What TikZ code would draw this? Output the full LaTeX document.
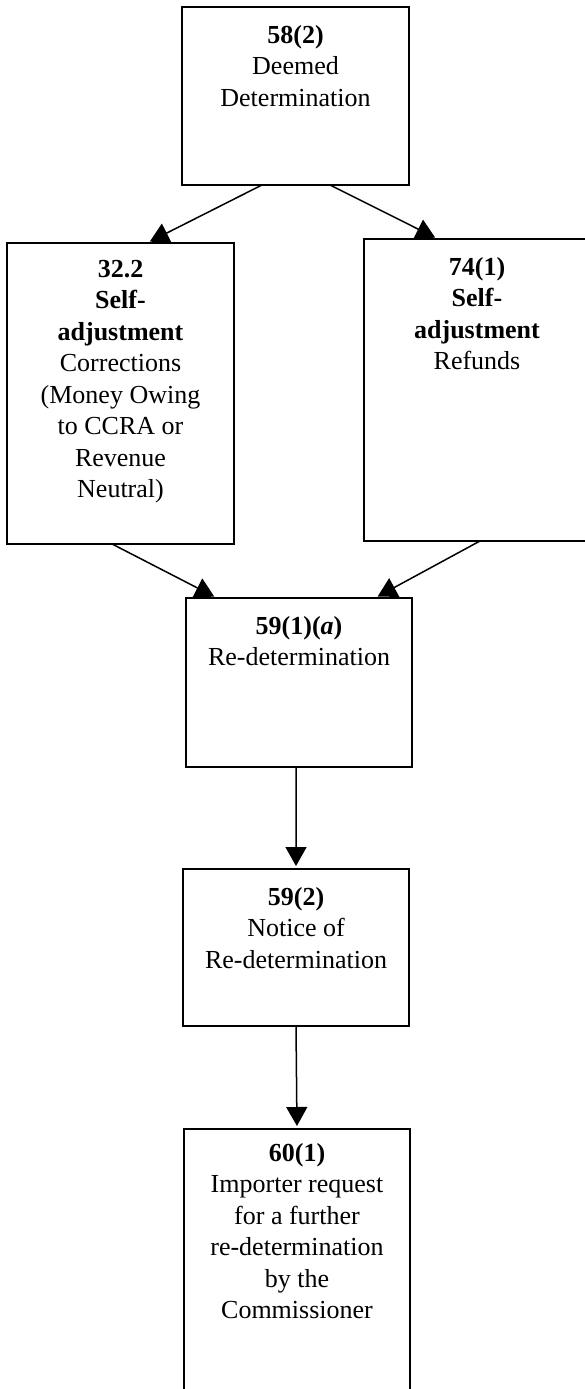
\documentclass[tikz,border=0pt]{standalone}
\usepackage{fontspec}
\setmainfont{Liberation Serif}
\usetikzlibrary{arrows.meta,calc}
\begin{document}
\begin{tikzpicture}[x=1pt,y=-1pt,
  box/.style={draw=black,line width=1.8pt,inner sep=0pt,outer sep=0pt},
  txt/.style={font=\fontsize{26}{31.5}\selectfont,align=center,inner sep=0pt,anchor=north},
  conn/.style={line width=1.5pt,-{Triangle[length=19pt,width=21pt]},shorten >=3pt}]
\useasboundingbox (0,0) rectangle (585,1389);
\clip (0,0) rectangle (585,1389);
\fill[white] (0,0) rectangle (585,1389);
% boxes
\node[box,minimum width=227pt,minimum height=178pt] (b1) at (295.5,96) {};
\node[box,minimum width=227pt,minimum height=301pt] (b2) at (120.5,393.5) {};
\node[box,minimum width=226pt,minimum height=302pt] (b3) at (477,390) {};
\node[box,minimum width=226pt,minimum height=169pt] (b4) at (299,682.5) {};
\node[box,minimum width=226pt,minimum height=157pt] (b5) at (296,947.5) {};
\node[box,minimum width=226pt,minimum height=300pt] (b6) at (297,1279) {};
% texts
\node[txt] (t1) at ([yshift=-14pt]b1.north) {\strut\textbf{58(2)}\\Deemed\\Determination};
\node[txt] (t2) at ([yshift=-12pt]b2.north) {\strut\textbf{32.2}\\\textbf{Self-}\\\textbf{adjustment}\\Corrections\\(Money Owing\\to CCRA or\\Revenue\\Neutral)};
\node[txt] (t3) at ([yshift=-14pt]b3.north) {\strut\textbf{74(1)}\\\textbf{Self-}\\\textbf{adjustment}\\Refunds};
\node[txt] (t4) at ([yshift=-14pt]b4.north) {\strut\textbf{59(1)(\textit{a})}\\Re-determination};
\node[txt] (t5) at ([yshift=-14pt]b5.north) {\strut\textbf{59(2)}\\Notice of\\Re-determination};
\node[txt] (t6) at ([yshift=-10pt]b6.north) {\strut\textbf{60(1)}\\Importer request\\for a further\\re-determination\\by the\\Commissioner};
% connectors
\draw[conn] ($(b1.south west)!0.352!(b1.south east)$) -- ($(b2.north west)!0.617!(b2.north east)$);
\draw[conn] ($(b1.south west)!0.652!(b1.south east)$) -- ($(b3.north west)!0.327!(b3.north east)$);
\draw[conn] ($(b2.south west)!0.463!(b2.south east)$) -- ($(b4.north west)!0.137!(b4.north east)$);
\draw[conn] ($(b3.south west)!0.513!(b3.south east)$) -- ($(b4.north west)!0.836!(b4.north east)$);
\draw[conn] ($(b4.south west)!0.487!(b4.south east)$) -- ($(b5.north west)!0.500!(b5.north east)$);
\draw[conn] ($(b5.south west)!0.500!(b5.south east)$) -- ($(b6.north west)!0.500!(b6.north east)$);
\end{tikzpicture}
\end{document}
